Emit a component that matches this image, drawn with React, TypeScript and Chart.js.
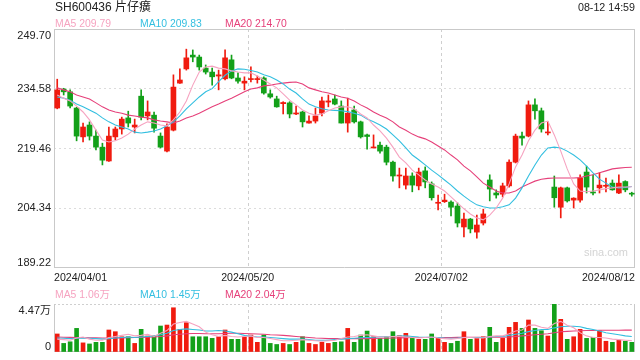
import React, { useEffect, useRef } from 'react';
import { Chart, registerables } from 'chart.js';

Chart.register(...registerables);

const FONT = 'Arial, "Liberation Sans", "Noto Sans CJK SC", sans-serif';
const RED = '#f01b0f';
const GREEN = '#13a019';
const MA5C = '#f6a3c0';
const MA10C = '#33bfe0';
const MA20C = '#e6407a';

const title = 'SH600436 片仔癀';
const timeLabel = '08-12 14:59';
const tickLabels = ['2024/04/01', '2024/05/20', '2024/07/02', '2024/08/12'];
const tickIndex = [0, 30, 60, 90];
const priceTicks = [189.22, 204.34, 219.46, 234.58, 249.7];
const volTicks = [0, 44700];
const priceLegend = [
  { name: 'MA5', value: '209.79', color: MA5C },
  { name: 'MA10', value: '209.83', color: MA10C },
  { name: 'MA20', value: '214.70', color: MA20C },
];
const volLegend = [
  { name: 'MA5', value: '1.06万', color: MA5C },
  { name: 'MA10', value: '1.45万', color: MA10C },
  { name: 'MA20', value: '2.04万', color: MA20C },
];

const opens = [229.7, 234.5, 233.8, 229.7, 222.4, 225.4, 222.6, 219.8, 216.3, 222.4,
  224.4, 227.2, 224.9, 232.7, 227.7, 227.9, 222.6, 218.8, 224.1, 236.0,
  239.6, 243.1, 242.6, 239.8, 238.8, 237.8, 237.1, 241.9, 237.3, 236.0,
  236.9, 236.9, 237.3, 233.3, 232.0, 230.8, 231.0, 228.2, 228.7, 225.9,
  226.4, 228.4, 231.2, 232.0, 230.2, 225.9, 229.2, 226.2, 222.9, 219.6,
  220.3, 219.8, 216.0, 212.5, 210.2, 212.5, 210.0, 213.8, 210.5, 205.6,
  206.0, 205.9, 204.9, 199.6, 201.6, 198.3, 200.6, 211.5, 208.2, 207.9,
  210.0, 216.0, 222.6, 222.6, 230.5, 229.0, 223.4, 209.7, 204.6, 209.5,
  206.4, 206.4, 213.5, 208.4, 209.5, 209.9, 210.7, 208.2, 211.1, 208.1];
const highs = [237.0, 234.7, 234.3, 229.9, 225.9, 226.2, 224.1, 220.8, 224.9, 224.9,
  227.4, 228.9, 226.9, 234.3, 231.5, 228.7, 223.4, 225.7, 238.1, 239.6,
  244.6, 244.4, 243.1, 240.6, 239.8, 239.3, 244.4, 243.1, 238.6, 237.6,
  240.1, 237.8, 237.6, 234.3, 232.7, 231.3, 231.3, 230.2, 228.9, 227.7,
  229.7, 232.5, 233.0, 233.0, 231.5, 232.2, 230.2, 226.4, 223.1, 222.9,
  221.1, 220.3, 216.3, 214.5, 214.5, 213.3, 214.5, 214.8, 211.0, 207.7,
  207.9, 206.2, 205.7, 203.1, 201.8, 202.6, 204.1, 212.8, 209.0, 210.7,
  216.6, 223.1, 223.6, 231.5, 232.0, 229.7, 226.2, 212.5, 209.7, 209.7,
  207.0, 212.8, 215.0, 212.8, 213.3, 212.0, 211.5, 212.8, 211.3, 208.4];
const lows = [229.5, 233.0, 229.7, 221.4, 221.1, 221.6, 219.1, 215.3, 216.2, 221.6,
  223.1, 224.9, 223.4, 226.7, 226.7, 223.6, 219.6, 218.6, 223.9, 235.9,
  239.3, 241.4, 239.3, 238.3, 235.5, 234.3, 236.8, 237.1, 236.0, 234.3,
  236.3, 236.0, 233.2, 232.2, 229.9, 228.2, 227.2, 228.0, 224.9, 225.9,
  225.9, 227.7, 230.0, 230.5, 225.9, 223.6, 225.9, 222.1, 219.3, 219.6,
  218.3, 215.3, 211.2, 209.5, 209.2, 208.5, 209.0, 209.5, 206.4, 203.9,
  205.8, 202.4, 199.6, 197.1, 198.1, 196.8, 200.1, 206.2, 206.9, 207.2,
  209.7, 215.8, 220.3, 222.4, 226.9, 223.6, 222.9, 204.6, 201.9, 205.9,
  204.4, 205.9, 208.2, 207.7, 208.2, 208.5, 208.9, 208.0, 208.5, 207.4];
const closes = [234.3, 233.8, 230.2, 222.6, 224.9, 222.6, 219.8, 216.5, 222.6, 224.4,
  226.9, 225.9, 225.4, 227.4, 228.7, 224.6, 219.8, 224.9, 235.0, 236.8,
  242.4, 242.6, 240.1, 238.8, 237.6, 238.1, 242.4, 237.3, 236.5, 236.5,
  237.1, 237.1, 233.5, 232.5, 230.0, 231.1, 228.2, 228.4, 226.2, 226.4,
  227.7, 231.5, 231.5, 230.7, 225.9, 228.4, 226.2, 222.4, 222.5, 219.8,
  218.8, 216.0, 212.5, 212.7, 212.5, 210.2, 213.5, 211.0, 207.0, 205.8,
  206.4, 204.6, 200.6, 201.6, 199.1, 200.1, 202.9, 209.2, 207.7, 210.0,
  216.0, 222.6, 222.1, 230.5, 229.0, 224.4, 223.6, 207.0, 209.5, 206.2,
  206.9, 212.0, 209.7, 208.2, 210.2, 210.0, 209.0, 210.7, 209.0, 207.9];

const ma5 = [233.0, 232.2, 231.5, 230.2, 228.7, 226.7, 224.1, 221.6, 221.1, 221.4,
  222.1, 223.1, 224.4, 225.4, 226.2, 225.9, 225.4, 225.2, 226.7, 228.7,
  231.5, 235.5, 238.8, 240.1, 240.3, 239.8, 239.6, 239.1, 238.8, 238.6,
  238.6, 237.8, 236.8, 235.8, 234.8, 233.3, 231.7, 230.5, 229.2, 228.4,
  227.9, 228.2, 229.0, 229.7, 230.0, 230.0, 229.5, 228.2, 227.2, 225.4,
  223.9, 222.1, 219.8, 217.3, 215.8, 214.0, 212.8, 211.5, 210.5, 209.7,
  208.7, 207.2, 205.7, 204.2, 202.9, 201.9, 201.4, 202.6, 204.4, 206.9,
  210.5, 214.8, 217.8, 221.4, 224.1, 225.9, 226.4, 222.9, 218.8, 214.3,
  210.5, 208.7, 208.5, 208.7, 209.0, 209.3, 209.5, 209.7, 209.7, 209.79];
const ma10 = [232.5, 232.2, 231.7, 230.7, 230.0, 229.2, 228.4, 227.2, 226.2, 225.4,
  224.9, 224.4, 223.6, 223.4, 223.6, 223.9, 224.4, 225.2, 226.2, 227.7,
  229.5, 231.0, 232.5, 233.8, 234.6, 236.4, 238.0, 239.1, 239.6, 239.5,
  239.2, 238.8, 238.1, 237.6, 236.8, 235.8, 234.5, 233.5, 232.0, 230.7,
  230.0, 229.5, 229.2, 229.1, 229.0, 228.8, 228.4, 227.9, 226.9, 226.2,
  225.4, 224.4, 222.9, 221.4, 219.6, 217.8, 216.6, 215.3, 214.0, 212.8,
  211.5, 210.2, 208.7, 207.4, 206.2, 205.2, 204.7, 204.4, 204.4, 204.7,
  205.2, 206.9, 209.5, 212.5, 215.3, 217.8, 219.6, 219.8, 219.6, 218.8,
  217.8, 216.6, 215.0, 213.3, 211.7, 210.7, 209.7, 209.5, 209.6, 209.83];
const ma20 = [234.8, 234.3, 233.8, 233.0, 232.5, 232.0, 231.0, 230.0, 229.2, 228.7,
  228.4, 227.9, 227.7, 227.4, 227.2, 226.7, 226.4, 226.2, 225.9, 226.4,
  227.2, 227.7, 228.4, 229.2, 230.0, 230.7, 231.5, 232.2, 233.0, 233.8,
  234.5, 234.8, 235.3, 235.5, 235.8, 236.0, 236.2, 236.3, 235.8, 234.8,
  234.3, 233.8, 233.5, 233.0, 232.5, 232.2, 231.5, 230.5, 229.7, 228.7,
  227.9, 227.2, 226.2, 224.9, 224.1, 223.1, 222.4, 221.9, 221.1, 220.1,
  219.1, 217.8, 216.6, 215.0, 213.8, 212.3, 210.7, 209.7, 208.7, 208.2,
  208.2, 208.7, 209.7, 210.5, 211.2, 211.7, 211.9, 212.0, 212.0, 212.0,
  212.0, 212.1, 212.5, 212.8, 213.3, 213.8, 214.3, 214.5, 214.65, 214.7];

const volumes = [16800, 8000, 9500, 22000, 8500, 7500, 9000, 9000, 20500, 18900,
  14200, 14200, 8000, 21100, 14900, 14900, 24200, 25100, 41200, 21100,
  27300, 14200, 14200, 14200, 12700, 14200, 20500, 11800, 11800, 14200,
  15800, 9000, 15800, 8000, 7000, 8000, 7000, 9000, 14200, 8000,
  7000, 9000, 8000, 9000, 9500, 22000, 9000, 15800, 19500, 14200,
  12700, 14200, 18900, 15200, 17400, 12700, 11800, 11800, 16800, 12700,
  9000, 8000, 10000, 18900, 11800, 12700, 14200, 23000, 9000, 12700,
  23000, 27600, 22000, 29800, 22000, 19800, 14900, 44700, 30400, 11800,
  14200, 21100, 12700, 13700, 19800, 10000, 9000, 11000, 10000, 9000];
const vma5 = [12000, 11500, 11000, 13000, 14000, 12000, 11000, 11000, 13500, 14500,
  15500, 16500, 15000, 15500, 16500, 14500, 17500, 20000, 26000, 27500,
  28500, 26000, 23500, 18500, 16000, 14500, 15500, 14500, 14000, 14500,
  15000, 13500, 13500, 12500, 11500, 10500, 10500, 11000, 11500, 11000,
  10500, 10000, 10500, 11000, 12500, 14000, 14500, 15500, 16000, 15000,
  14000, 14000, 14500, 14500, 14000, 13500, 13000, 13500, 14000, 13000,
  12500, 12000, 12500, 13500, 13500, 13000, 13000, 14500, 15000, 15000,
  17000, 19500, 20500, 25000, 25000, 23000, 22000, 26500, 28500, 25000,
  22500, 18000, 15000, 13500, 13500, 13000, 12000, 11500, 11000, 10600];
const vma10 = [13000, 12800, 12500, 12800, 13000, 12800, 12500, 12000, 12500, 13000,
  13500, 14000, 13500, 14000, 14500, 15000, 16000, 17500, 20000, 21000,
  21500, 21000, 20500, 19500, 19500, 20000, 19500, 18500, 17000, 15500,
  14800, 14000, 14000, 13500, 13000, 12500, 12000, 12000, 12000, 11500,
  11000, 11000, 11000, 11500, 12000, 12500, 12800, 13200, 13500, 13800,
  14200, 14200, 14500, 14800, 15000, 14500, 14000, 13800, 13800, 13500,
  13000, 12800, 13000, 13500, 13500, 13500, 13500, 14000, 14500, 14500,
  15500, 16500, 17500, 19000, 20000, 21000, 21000, 22500, 23500, 24000,
  24000, 23500, 22000, 21000, 19500, 18000, 17000, 16000, 15000, 14500];
const vma20 = [14000, 13800, 13600, 13500, 13400, 13300, 13200, 13000, 13000, 13000,
  13200, 13400, 13500, 13600, 13800, 14000, 14500, 15000, 16000, 16500,
  17000, 17200, 17200, 17000, 17000, 17000, 17200, 17500, 17500, 17200,
  17000, 16800, 16500, 16000, 15800, 15500, 15000, 14500, 14000, 13500,
  13000, 12800, 12500, 12500, 12500, 12500, 12500, 12500, 12500, 12700,
  12800, 12800, 13000, 13200, 13400, 13500, 13500, 13500, 13500, 13500,
  13500, 13500, 13600, 13700, 13800, 13800, 13800, 13800, 13800, 13800,
  14000, 14500, 15000, 15500, 16000, 16500, 17000, 18000, 18800, 19200,
  19500, 19800, 20000, 20000, 20200, 20200, 20300, 20300, 20400, 20400];

const candleColors = closes.map((c, i) => (c >= opens[i] ? RED : GREEN));
const xy = (arr: number[]) => arr.map((v, i) => ({ x: i + 0.5, y: v }));

function framePlugin(topSolid: boolean) {
  return {
    id: 'frame',
    beforeDatasetsDraw(chart: any) {
      const { ctx, chartArea: a } = chart;
      const xs = chart.scales.x;
      ctx.save();
      // vertical dashed separators at the inner date ticks
      ctx.strokeStyle = '#cfcfcf';
      ctx.lineWidth = 1;
      ctx.setLineDash([3, 3]);
      ctx.beginPath();
      tickIndex.slice(1, -1).forEach((v) => {
        const px = Math.round(xs.getPixelForValue(v)) + 0.5;
        ctx.moveTo(px, a.top);
        ctx.lineTo(px, a.bottom);
      });
      ctx.stroke();
      ctx.setLineDash([]);
      ctx.strokeStyle = '#c9c9c9';
      ctx.beginPath();
      ctx.moveTo(a.left + 0.5, a.top);
      ctx.lineTo(a.left + 0.5, a.bottom);
      ctx.moveTo(a.right - 0.5, a.top);
      ctx.lineTo(a.right - 0.5, a.bottom);
      ctx.moveTo(a.left, a.bottom - 0.5);
      ctx.lineTo(a.right, a.bottom - 0.5);
      if (topSolid) {
        ctx.moveTo(a.left, a.top + 0.5);
        ctx.lineTo(a.right, a.top + 0.5);
      }
      ctx.stroke();
      ctx.restore();
    },
  };
}

function yLabelPlugin(fmt: (v: number) => string) {
  return {
    id: 'ylabels',
    afterDraw(chart: any) {
      const s = chart.scales.y;
      const ctx = chart.ctx;
      ctx.save();
      ctx.font = '11px ' + FONT;
      ctx.fillStyle = '#222';
      ctx.textAlign = 'right';
      s.ticks.forEach((t: any) => {
        const y = s.getPixelForValue(t.value);
        ctx.textBaseline = t.value === s.max ? 'top' : t.value === s.min ? 'bottom' : 'middle';
        ctx.fillText(fmt(t.value), chart.chartArea.left - 3, y + (t.value === s.max ? 1 : 0));
      });
      ctx.restore();
    },
  };
}

function xScale(showLabels: boolean) {
  return {
    type: 'linear',
    min: 0,
    max: 90,
    offset: false,
    afterBuildTicks: (s: any) => {
      s.ticks = tickIndex.map((v) => ({ value: v }));
    },
    afterFit: (s: any) => {
      s.height = showLabels ? 20 : 0;
    },
    grid: { display: false, drawTicks: false },
    border: { display: false },
    ticks: {
      display: showLabels,
      autoSkip: false,
      maxRotation: 0,
      align: 'inner',
      padding: 4,
      color: '#222',
      font: { size: 10.6, family: FONT },
      callback: (v: any) => {
        const k = tickIndex.indexOf(Number(v));
        return k >= 0 ? tickLabels[k] : '';
      },
    },
  };
}

function lineDs(label: string, data: number[], color: string) {
  return {
    type: 'line',
    label,
    data: xy(data),
    borderColor: color,
    backgroundColor: color,
    borderWidth: 1.1,
    pointRadius: 0,
    tension: 0,
    order: 0,
  };
}

export default function App() {
  const mainRef = useRef<HTMLCanvasElement>(null);
  const volRef = useRef<HTMLCanvasElement>(null);

  useEffect(() => {
    const main = new Chart(mainRef.current as HTMLCanvasElement, {
      type: 'bar',
      data: {
        datasets: [
          lineDs('MA5', ma5, MA5C),
          lineDs('MA10', ma10, MA10C),
          lineDs('MA20', ma20, MA20C),
          {
            type: 'bar',
            label: 'wick',
            data: highs.map((h, i) => ({ x: i + 0.5, y: [lows[i], h] })),
            backgroundColor: candleColors,
            barThickness: 1,
            grouped: false,
            order: 2,
          },
          {
            type: 'bar',
            label: 'body',
            data: opens.map((o, i) => ({ x: i + 0.5, y: [o, closes[i]] })),
            backgroundColor: candleColors,
            barThickness: 5,
            minBarLength: 1,
            grouped: false,
            order: 1,
          },
        ] as any,
      },
      options: {
        animation: false,
        responsive: false,
        maintainAspectRatio: false,
        events: [],
        layout: { padding: { top: 29, right: 5, left: 0, bottom: 0 } },
        plugins: { legend: { display: false }, tooltip: { enabled: false } },
        scales: {
          x: xScale(true) as any,
          y: {
            min: priceTicks[0],
            max: priceTicks[priceTicks.length - 1],
            afterBuildTicks: (s: any) => {
              s.ticks = priceTicks.map((v) => ({ value: v }));
            },
            afterFit: (s: any) => {
              s.width = 54;
            },
            grid: {
              drawTicks: false,
              color: (c: any) =>
                c.tick && (c.tick.value === priceTicks[0] || c.tick.value === priceTicks[priceTicks.length - 1])
                  ? 'rgba(0,0,0,0)'
                  : '#dcdcdc',
            },
            border: { display: false, dash: [2, 3] },
            ticks: { display: false },
          },
        },
      },
      plugins: [framePlugin(true), yLabelPlugin((v) => v.toFixed(2))],
    });

    const vol = new Chart(volRef.current as HTMLCanvasElement, {
      type: 'bar',
      data: {
        datasets: [
          lineDs('VMA5', vma5, MA5C),
          lineDs('VMA10', vma10, MA10C),
          lineDs('VMA20', vma20, MA20C),
          {
            type: 'bar',
            label: 'volume',
            data: xy(volumes),
            backgroundColor: candleColors,
            barThickness: 4,
            grouped: false,
            order: 1,
          },
        ] as any,
      },
      options: {
        animation: false,
        responsive: false,
        maintainAspectRatio: false,
        events: [],
        layout: { padding: { top: 16, right: 5, left: 0, bottom: 8 } },
        plugins: { legend: { display: false }, tooltip: { enabled: false } },
        scales: {
          x: xScale(false) as any,
          y: {
            min: volTicks[0],
            max: volTicks[1],
            afterBuildTicks: (s: any) => {
              s.ticks = volTicks.map((v) => ({ value: v }));
            },
            afterFit: (s: any) => {
              s.width = 54;
            },
            grid: {
              drawTicks: false,
              color: (c: any) => (c.tick && c.tick.value === volTicks[1] ? '#cfcfcf' : 'rgba(0,0,0,0)'),
            },
            border: { display: false, dash: [2, 2] },
            ticks: { display: false },
          },
        },
      },
      plugins: [framePlugin(false), yLabelPlugin((v) => (v === 0 ? '0' : (v / 10000).toFixed(2) + '万'))],
    });

    return () => {
      main.destroy();
      vol.destroy();
    };
  }, []);

  const txt = (extra: React.CSSProperties): React.CSSProperties => ({
    position: 'absolute',
    whiteSpace: 'nowrap',
    fontFamily: FONT,
    ...extra,
  });

  return (
    <div style={{ position: 'fixed', left: 0, top: 0, width: 640, height: 360, background: '#fff', overflow: 'hidden' }}>
      <canvas ref={mainRef} width={640} height={288} style={{ position: 'absolute', left: 0, top: 0, display: 'block' }} />
      <canvas ref={volRef} width={640} height={72} style={{ position: 'absolute', left: 0, top: 288, display: 'block' }} />
      <div style={txt({ left: 55, top: 1, fontSize: 12, lineHeight: '12px', color: '#222' })}>{title}</div>
      <div style={txt({ right: 5, top: 2, fontSize: 10.7, lineHeight: '10.7px', color: '#222' })}>{timeLabel}</div>
      {priceLegend.map((l, k) => (
        <div key={'p' + k} style={txt({ left: 55 + k * 85, top: 18.5, fontSize: 10.4, lineHeight: '10.4px', color: l.color })}>
          {l.name + ' ' + l.value}
        </div>
      ))}
      {volLegend.map((l, k) => (
        <div key={'v' + k} style={txt({ left: 55 + k * 85, top: 289.5, fontSize: 10.4, lineHeight: '10.4px', color: l.color })}>
          {l.name + ' ' + l.value}
        </div>
      ))}
      <div style={txt({ left: 584, top: 246.5, fontSize: 11, lineHeight: '11px', color: '#d4d4d4' })}>sina.com</div>
    </div>
  );
}
